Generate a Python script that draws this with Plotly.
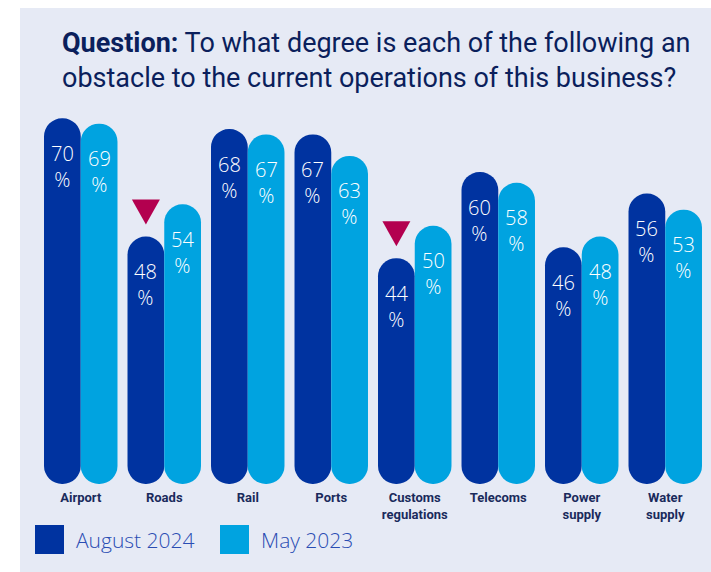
import plotly.graph_objects as go

# Survey results: share of businesses reporting each item as an obstacle (%)
categories = ["Airport", "Roads", "Rail", "Ports", "Customs<br>regulations",
              "Telecoms", "Power<br>supply", "Water<br>supply"]
aug_2024 = [70, 48, 68, 67, 44, 60, 46, 56]
may_2023 = [69, 54, 67, 63, 50, 58, 48, 53]
# categories with a significant decline since the previous survey
significant_decline = [False, True, False, False, True, False, False, False]
series_names = ["August 2024", "May 2023"]

DARK = "#0033a0"
LIGHT = "#00a3e0"
MARKER_RED = "#b3004f"
PANEL = "#e6eaf5"
NAVY = "#0b1f5c"
LEGEND_TXT = "#2a4db3"

W, H = 711, 572
ML, MR, MT, MB = 39, 4, 100, 88
PLOT_W = W - ML - MR
PLOT_H = H - MT - MB

BAR_W = 0.44          # width of each bar in category units
PILL_BASE = 2         # bottom of each rounded bar

x_idx = list(range(len(categories)))


def px_to_paper_x(px):
    return (px - ML) / PLOT_W


def px_to_paper_y(py):
    return (H - MB - py) / PLOT_H


fig = go.Figure()

for vals, color, offset, name in [(aug_2024, DARK, -BAR_W, series_names[0]),
                                  (may_2023, LIGHT, 0.0, series_names[1])]:
    fig.add_trace(go.Bar(
        x=x_idx, y=[v - PILL_BASE for v in vals], base=[PILL_BASE] * len(vals),
        width=BAR_W, offset=offset, name=name,
        marker=dict(color=color, line=dict(width=0), cornerradius="50%"),
        showlegend=False, hoverinfo="skip"))

annotations = []
for vals, shift in [(aug_2024, -BAR_W / 2), (may_2023, BAR_W / 2)]:
    for i, v in enumerate(vals):
        annotations.append(dict(
            x=i + shift, y=v, xref="x", yref="y", text=f"{v}<br>%",
            showarrow=False, yanchor="middle", yshift=-48,
            font=dict(family="Open Sans", size=20, color="white", weight=300)))

# title
annotations.append(dict(
    x=px_to_paper_x(60), y=px_to_paper_y(25), xref="paper", yref="paper",
    xanchor="left", yanchor="top", align="left", showarrow=False,
    text=("<b>Question:</b> To what degree is each of the following an<br>"
          "obstacle to the current operations of this business?"),
    font=dict(family="Roboto", size=27, color=NAVY)))

shapes = [dict(type="rect", xref="paper", yref="paper", layer="below",
               x0=px_to_paper_x(20), x1=px_to_paper_x(W + 5),
               y0=px_to_paper_y(8), y1=px_to_paper_y(H + 5),
               fillcolor=PANEL, line=dict(width=0))]

# decline markers above the August 2024 bars
for i, flag in enumerate(significant_decline):
    if flag:
        shapes.append(dict(
            type="path", xref="x", yref="y",
            xsizemode="pixel", ysizemode="pixel",
            xanchor=i - BAR_W / 2, yanchor=aug_2024[i],
            path="M -14,37 L 14,37 L 0,12 Z",
            fillcolor=MARKER_RED, line=dict(width=0)))

# legend
legend_items = [(series_names[0], DARK, 35), (series_names[1], LIGHT, 220)]
for name, color, x0 in legend_items:
    shapes.append(dict(type="rect", xref="paper", yref="paper",
                       x0=px_to_paper_x(x0), x1=px_to_paper_x(x0 + 29),
                       y0=px_to_paper_y(554), y1=px_to_paper_y(525),
                       fillcolor=color, line=dict(width=0)))
    annotations.append(dict(
        x=px_to_paper_x(x0 + 39), y=px_to_paper_y(539.5), xref="paper", yref="paper",
        xanchor="left", yanchor="middle", showarrow=False, text=name,
        font=dict(family="Open Sans", size=21, color=LEGEND_TXT, weight=300)))

fig.update_layout(
    width=W, height=H, autosize=False,
    margin=dict(l=ML, r=MR, t=MT, b=MB, pad=0),
    paper_bgcolor="white", plot_bgcolor="rgba(0,0,0,0)",
    barmode="overlay", showlegend=False,
    xaxis=dict(range=[-0.5, len(categories) - 0.5], tickvals=x_idx,
               ticktext=[f"<b>{c}</b>" for c in categories],
               showgrid=False, zeroline=False, showline=False, ticks="",
               ticklabelstandoff=4,
               tickfont=dict(family="Roboto", size=13, color="#1a2a5c"),
               fixedrange=True),
    yaxis=dict(range=[1.99, 73.41], visible=False, fixedrange=True),
    annotations=annotations, shapes=shapes,
)

fig.write_html("out.html")
